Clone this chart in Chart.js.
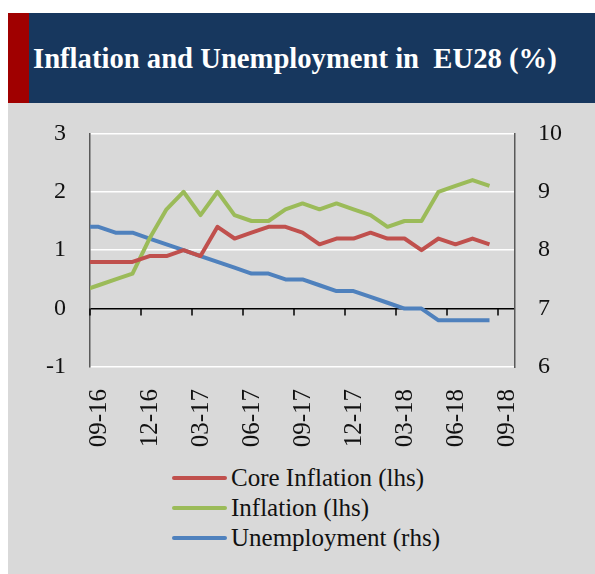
<!DOCTYPE html>
<html>
<head>
<meta charset="utf-8">
<script src="https://cdn.jsdelivr.net/npm/chart.js@4.4.1/dist/chart.umd.min.js"></script>
<style>
    body { margin: 0; background: #fff; width: 595px; height: 574px; overflow: hidden; position: relative; }
    .titleBar { position: absolute; left: 8px; top: 13px; width: 587px; height: 90px; background: #17375e; }
    .titleBar .mark { position: absolute; left: 0; top: 0; width: 21px; height: 90px; background: #a00000; }
    .titleBar .txt { position: absolute; left: 25px; top: 28px; color: #fff; font: bold 30px "Liberation Serif", serif; white-space: pre; transform: scaleX(0.955); transform-origin: left center; }
    .panel { position: absolute; left: 8px; top: 103px; width: 587px; height: 471px; background: #d9d9d9; }
    #chartWrap { position: absolute; left: 0; top: -8px; width: 587px; height: 358px; }
    .legend { position: absolute; left: 164px; top: 360px; font: 25px "Liberation Serif", serif; color: #111; }
    .legend .row { height: 30px; display: flex; align-items: center; }
    .legend .swatch { width: 55px; height: 4px; margin-right: 4px; border-radius: 2px; }
</style>
</head>
<body>
<div class="titleBar"><div class="mark"></div><div class="txt">Inflation and Unemployment in  EU28 (%)</div></div>
<div class="panel">
    <div id="chartWrap"><canvas id="chart" width="587" height="358"></canvas></div>
    <div class="legend" id="legend"></div>
</div>
<script>
// Données mensuelles (08-16 à 08-18)
const months = ['08-16', '09-16', '10-16', '11-16', '12-16', '01-17', '02-17', '03-17', '04-17',
    '05-17', '06-17', '07-17', '08-17', '09-17', '10-17', '11-17', '12-17', '01-18', '02-18',
    '03-18', '04-18', '05-18', '06-18', '07-18', '08-18'];
const tickLabels = ['09-16', '12-16', '03-17', '06-17', '09-17', '12-17', '03-18', '06-18', '09-18'];
const leftTicks = [-1, 0, 1, 2, 3];
const rightTicks = [6, 7, 8, 9, 10];

const coreInflation = [0.8, 0.8, 0.8, 0.8, 0.9, 0.9, 1.0, 0.9, 1.4, 1.2, 1.3, 1.4, 1.4,
    1.3, 1.1, 1.2, 1.2, 1.3, 1.2, 1.2, 1.0, 1.2, 1.1, 1.2, 1.1];
const inflation = [0.3, 0.4, 0.5, 0.6, 1.2, 1.7, 2.0, 1.6, 2.0, 1.6, 1.5, 1.5, 1.7,
    1.8, 1.7, 1.8, 1.7, 1.6, 1.4, 1.5, 1.5, 2.0, 2.1, 2.2, 2.1];
const unemployment = [8.4, 8.4, 8.3, 8.3, 8.2, 8.1, 8.0, 7.9, 7.8, 7.7, 7.6, 7.6, 7.5,
    7.5, 7.4, 7.3, 7.3, 7.2, 7.1, 7.0, 7.0, 6.8, 6.8, 6.8, 6.8];

const series = [
    { label: 'Core Inflation (lhs)', data: coreInflation, color: '#c0504d', axis: 'yL' },
    { label: 'Inflation (lhs)', data: inflation, color: '#9bbb59', axis: 'yL' },
    { label: 'Unemployment (rhs)', data: unemployment, color: '#4f81bd', axis: 'yR' }
];

const FONT = '"Liberation Serif", serif';

// Petites graduations sur l'axe des x (à la hauteur de 0)
const zeroTicks = {
    id: 'zeroTicks',
    beforeDatasetsDraw(chart) {
        const ctx = chart.ctx;
        const xs = chart.scales.x;
        const y0 = chart.scales.yL.getPixelForValue(0);
        ctx.save();
        ctx.strokeStyle = '#000';
        ctx.lineWidth = 1.5;
        xs.ticks.forEach(t => {
            const px = Math.round(xs.getPixelForValue(t.value));
            ctx.beginPath();
            ctx.moveTo(px, y0);
            ctx.lineTo(px, y0 + 7);
            ctx.stroke();
        });
        ctx.restore();
    }
};

new Chart(document.getElementById('chart'), {
    type: 'line',
    data: {
        datasets: series.map(s => ({
            label: s.label,
            data: s.data.map((v, i) => ({ x: i, y: v })),
            borderColor: s.color,
            backgroundColor: s.color,
            borderWidth: 4,
            borderJoinStyle: 'round',
            pointRadius: 0,
            tension: 0,
            yAxisID: s.axis,
            clip: 0
        }))
    },
    options: {
        responsive: false,
        animation: false,
        layout: { padding: { top: 20, left: 0, right: 0, bottom: 0 } },
        plugins: { legend: { display: false }, tooltip: { enabled: false } },
        scales: {
            x: {
                type: 'linear',
                min: 0.5,
                max: months.length + 0.5,
                afterBuildTicks: scale => {
                    scale.ticks = tickLabels.map((_, i) => ({ value: i * 3 + 0.5 }));
                },
                afterFit: scale => { scale.height = 86; },
                grid: { display: false },
                border: { display: false },
                ticks: {
                    autoSkip: false,
                    minRotation: 90,
                    maxRotation: 90,
                    padding: 14,
                    labelOffset: 9,
                    color: '#111',
                    font: { family: FONT, size: 25 },
                    callback: (v, i) => tickLabels[i]
                }
            },
            yL: {
                position: 'left',
                min: -1,
                max: 3,
                afterBuildTicks: scale => { scale.ticks = leftTicks.map(v => ({ value: v })); },
                afterFit: scale => { scale.width = 82; },
                grid: {
                    color: c => c.tick.value === 0 ? '#000' : '#fff',
                    lineWidth: 1.5,
                    drawTicks: false
                },
                border: { display: true, color: '#595959', width: 1.5 },
                ticks: { padding: 24, color: '#111', font: { family: FONT, size: 24 } }
            },
            yR: {
                position: 'right',
                min: 6,
                max: 10,
                afterBuildTicks: scale => { scale.ticks = rightTicks.map(v => ({ value: v })); },
                afterFit: scale => { scale.width = 80; },
                grid: { drawOnChartArea: false, drawTicks: false },
                border: { display: true, color: '#595959', width: 1.5 },
                ticks: { padding: 23, color: '#111', font: { family: FONT, size: 24 } }
            }
        }
    },
    plugins: [zeroTicks]
});

// Légende
document.getElementById('legend').innerHTML = series.map(s => `
    <div class="row"><span class="swatch" style="background:${s.color}"></span>${s.label}</div>
`).join('');
</script>
</body>
</html>
